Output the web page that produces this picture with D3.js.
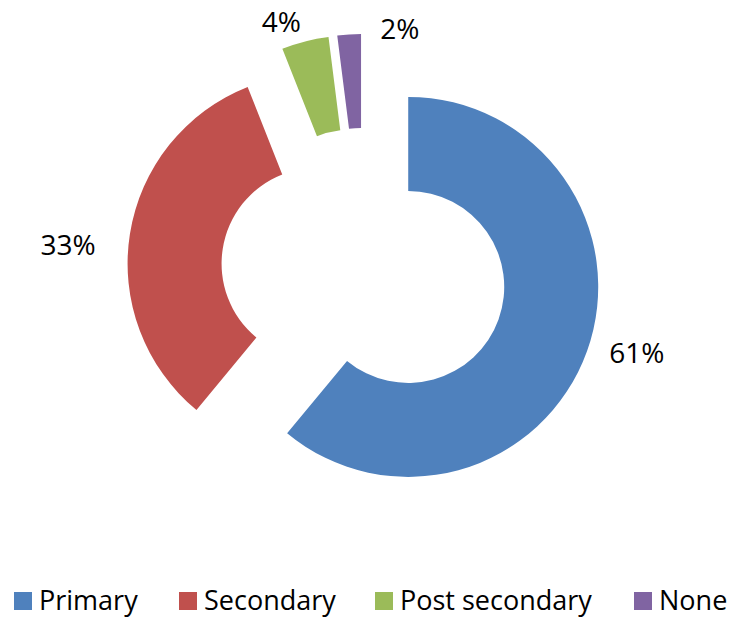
<!DOCTYPE html>
<html lang="en">
<meta charset="utf-8">
<head>
    <script src="https://d3js.org/d3.v7.min.js"></script>
    <style>
        body { margin: 0; background: #fff; }
        svg { font-family: "Open Sans", Lato, sans-serif; }
    </style>
</head>
<body>
<div id="chart"></div>
<script>
// data
var categories = ["Primary", "Secondary", "Post secondary", "None"];
var shares = [61, 33, 4, 2];
var labels = ["61%", "33%", "4%", "2%"];
var colors = ["#4F81BD", "#C0504D", "#9BBB59", "#8064A2"];

var width = 729, height = 618;
var cx = 364, cy = 271;          // donut centre before explosion
var outerR = 190, innerR = 96;
var explode = 47;                // every slice pulled out by this much

var svg = d3.select("#chart").append("svg")
    .attr("width", width)
    .attr("height", height);

var g = svg.append("g")
    .attr("transform", "translate(" + cx + "," + cy + ")");

var pie = d3.pie().sort(null).value(function(d) { return d; });
var arcs = pie(shares);

var arc = d3.arc().innerRadius(innerR).outerRadius(outerR);

function mid(d) { return (d.startAngle + d.endAngle) / 2; }

g.selectAll("path.slice")
  .data(arcs)
  .enter().append("path")
    .attr("class", "slice")
    .attr("d", arc)
    .attr("fill", function(d, i) { return colors[i]; })
    .attr("transform", function(d) {
        var a = mid(d);
        return "translate(" + (explode * Math.sin(a)) + "," + (-explode * Math.cos(a)) + ")";
    });

// label placement: radius and angle nudge per slice (Excel shifts small ones)
var labelR = [285, 297, 262, 245];
var labelNudge = [-3, -4, -4, 12];   // degrees

g.selectAll("text.lbl")
  .data(arcs)
  .enter().append("text")
    .attr("class", "lbl")
    .attr("x", function(d, i) { return labelR[i] * Math.sin(mid(d) + labelNudge[i] * Math.PI / 180); })
    .attr("y", function(d, i) { return -labelR[i] * Math.cos(mid(d) + labelNudge[i] * Math.PI / 180); })
    .attr("dy", "0.36em")
    .attr("text-anchor", "middle")
    .style("font-size", "28px")
    .style("fill", "#000")
    .text(function(d, i) { return labels[i]; });

// legend
var legendX = [14, 179, 375, 634];
var legend = svg.append("g").attr("transform", "translate(0,601)");
var item = legend.selectAll("g")
  .data(categories)
  .enter().append("g")
    .attr("transform", function(d, i) { return "translate(" + legendX[i] + ",0)"; });
item.append("rect")
    .attr("x", 0).attr("y", -9)
    .attr("width", 18).attr("height", 18)
    .attr("fill", function(d, i) { return colors[i]; });
item.append("text")
    .attr("x", 25)
    .attr("y", 9)
    .style("font-size", "27px")
    .text(function(d) { return d; });
</script>
</body>
</html>
